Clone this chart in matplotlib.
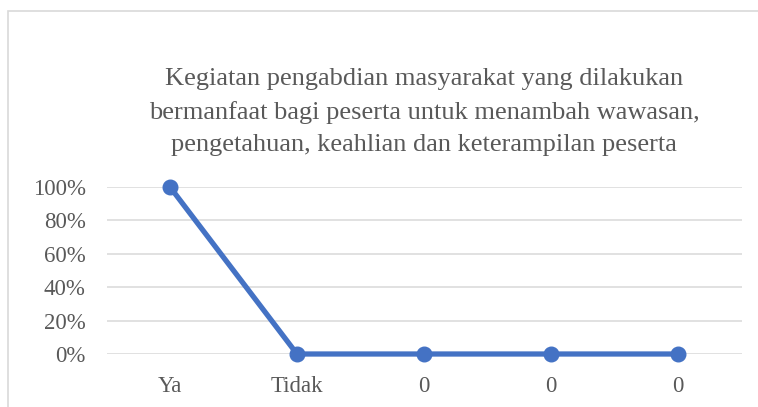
import matplotlib
matplotlib.use('Agg')
from matplotlib import pyplot as plt
from matplotlib.patches import Rectangle
from matplotlib.ticker import PercentFormatter

categories = ['Ya', 'Tidak', '0', '0', '0']
values = [1.0, 0.0, 0.0, 0.0, 0.0]
y_ticks = [0, 0.2, 0.4, 0.6, 0.8, 1.0]
title = ('Kegiatan pengabdian masyarakat yang dilakukan\n'
         'bermanfaat bagi peserta untuk menambah wawasan,\n'
         'pengetahuan, keahlian dan keterampilan peserta')

plt.rcParams['font.family'] = ['Liberation Serif', 'DejaVu Serif']

W, H = 758, 407
fig = plt.figure(figsize=(W / 100, H / 100), dpi=100)

# chart frame (Excel-style border, cut off at right/bottom)
fig.patches.append(Rectangle((8 / W, -0.1), 1.2, 1.1 - 11 / H, transform=fig.transFigure,
                             fill=False, edgecolor='#D9D9D9', linewidth=1.2))

x0, x1 = 106.5, 741.5
ytop, ybot = 187, 354
ax = fig.add_axes([x0 / W, (H - ybot) / H, (x1 - x0) / W, (ybot - ytop) / H])
x = list(range(len(categories)))
ax.plot(x, values, color='#4472C4', linewidth=3.8, marker='o', markersize=10.5,
        solid_capstyle='round', zorder=3, clip_on=False)

ax.set_xlim(-0.5, len(categories) - 0.5)
ax.set_ylim(0, 1.0)
ax.set_yticks(y_ticks)
ax.yaxis.set_major_formatter(PercentFormatter(1.0, decimals=0))
ax.set_xticks(x)
ax.set_xticklabels(categories)
ax.grid(axis='y', color='#D9D9D9', linewidth=1.1)
ax.set_axisbelow(True)
for s in ax.spines.values():
    s.set_visible(False)
ax.tick_params(axis='both', length=0, labelsize=16.5, labelcolor='#595959')
ax.tick_params(axis='y', pad=15)
ax.tick_params(axis='x', pad=16)

fig.text(424 / W, 1 - 112 / H, title, ha='center', va='center', fontsize=19,
         color='#595959', linespacing=1.6)

plt.savefig('out.png', dpi=100)
